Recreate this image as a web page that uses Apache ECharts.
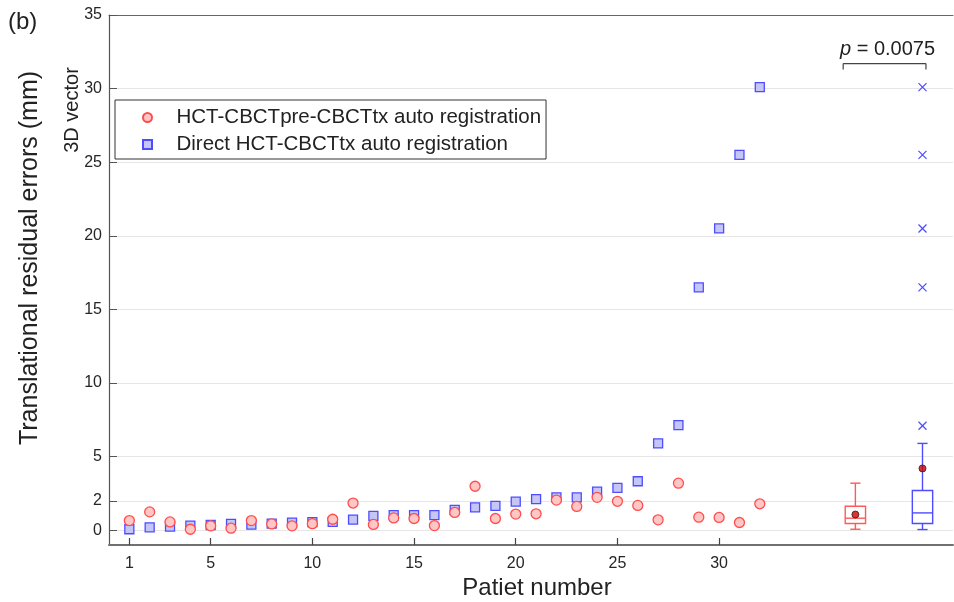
<!DOCTYPE html>
<html>
<head>
<meta charset="utf-8">
<script src="https://cdn.jsdelivr.net/npm/echarts@6/dist/echarts.min.js"></script>
<style>
  html, body { margin: 0; padding: 0; background: #fff; }
  #chart { width: 954px; height: 602px; }
</style>
</head>
<body>
<div id="chart"></div>
<script>
var FONT = '"Liberation Sans", Arial, Helvetica, sans-serif';

// patient numbers 1..32
var patients = [1, 2, 3, 4, 5, 6, 7, 8, 9, 10, 11, 12, 13, 14, 15, 16,
                17, 18, 19, 20, 21, 22, 23, 24, 25, 26, 27, 28, 29, 30, 31, 32];
// HCT-CBCTpre-CBCTtx auto registration (red circles)
var preRegErr = [0.66, 1.25, 0.57, 0.07, 0.30, 0.14, 0.66, 0.43, 0.30, 0.45, 0.75, 1.85, 0.40, 0.84, 0.80, 0.32,
                 1.21, 2.99, 0.80, 1.10, 1.12, 2.05, 1.62, 2.24, 1.97, 1.69, 0.71, 3.20, 0.89, 0.87, 0.53, 1.80];
// Direct HCT-CBCTtx auto registration (blue squares)
var directErr = [0.07, 0.20, 0.25, 0.32, 0.36, 0.43, 0.38, 0.45, 0.52, 0.55, 0.57, 0.73, 0.98, 1.03, 1.03, 1.03,
                 1.39, 1.55, 1.66, 1.94, 2.12, 2.24, 2.24, 2.62, 2.88, 3.33, 5.90, 7.14, 16.5, 20.5, 25.5, 30.1];

// box plots: [min, q1, median, q3, max] at boxPos
var boxPos = [36.7, 40];
var boxStats = [[0.07, 0.46, 0.82, 1.63, 3.2],
                [0.05, 0.46, 1.18, 2.70, 5.9]];
var boxMeans = [1.07, 4.2];
var boxColors = ['#ff5a5a', '#4d4dff'];
// outliers of the direct registration box
var outlierVals = [30.1, 25.5, 20.5, 16.5, 7.1];

var yTicks = [0, 2, 5, 10, 15, 20, 25, 30, 35];
var xTicks = [1, 5, 10, 15, 20, 25, 30];

var nameRed = 'HCT-CBCTpre-CBCTtx auto registration';
var nameBlue = 'Direct HCT-CBCTtx auto registration';

var chart = echarts.init(document.getElementById('chart'));

var boxData = boxPos.map(function (x, i) { return [x].concat(boxStats[i]).concat([i]); });

function renderBox(params, api) {
  var x = api.value(0);
  var ci = api.value(6);
  var w = api.size([1, 0])[0];
  var pMin = api.coord([x, api.value(1)]);
  var pQ1 = api.coord([x, api.value(2)]);
  var pMed = api.coord([x, api.value(3)]);
  var pQ3 = api.coord([x, api.value(4)]);
  var pMax = api.coord([x, api.value(5)]);
  var cx = pMin[0];
  var st = { stroke: boxColors[ci], lineWidth: 1.4, fill: null };
  return {
    type: 'group',
    children: [
      { type: 'line', shape: { x1: cx, y1: pMax[1], x2: cx, y2: pQ3[1] }, style: st },
      { type: 'line', shape: { x1: cx, y1: pQ1[1], x2: cx, y2: pMin[1] }, style: st },
      { type: 'line', shape: { x1: cx - w / 4, y1: pMax[1], x2: cx + w / 4, y2: pMax[1] }, style: st },
      { type: 'line', shape: { x1: cx - w / 4, y1: pMin[1], x2: cx + w / 4, y2: pMin[1] }, style: st },
      { type: 'rect', shape: { x: cx - w / 2, y: pQ3[1], width: w, height: pQ1[1] - pQ3[1] }, style: st },
      { type: 'line', shape: { x1: cx - w / 2, y1: pMed[1], x2: cx + w / 2, y2: pMed[1] }, style: st }
    ]
  };
}

function renderCross(params, api) {
  var p = api.coord([api.value(0), api.value(1)]);
  var r = 4;
  var st = { stroke: '#4d4dff', lineWidth: 1.3 };
  return {
    type: 'group',
    children: [
      { type: 'line', shape: { x1: p[0] - r, y1: p[1] - r, x2: p[0] + r, y2: p[1] + r }, style: st },
      { type: 'line', shape: { x1: p[0] - r, y1: p[1] + r, x2: p[0] + r, y2: p[1] - r }, style: st }
    ]
  };
}

function renderBracket(params, api) {
  var a = api.coord([api.value(0), api.value(2)]);
  var b = api.coord([api.value(1), api.value(2)]);
  var a2 = api.coord([api.value(0), api.value(3)]);
  var st = { stroke: '#444', lineWidth: 1.2 };
  return {
    type: 'group',
    children: [
      { type: 'line', shape: { x1: a[0], y1: a[1], x2: b[0], y2: b[1] }, style: st },
      { type: 'line', shape: { x1: a[0], y1: a[1], x2: a[0], y2: a2[1] }, style: st },
      { type: 'line', shape: { x1: b[0], y1: b[1], x2: b[0], y2: a2[1] }, style: st },
      {
        type: 'text',
        style: {
          x: (a[0] + b[0]) / 2 + 3, y: a[1] - 4,
          text: '{i|p} = 0.0075',
          rich: { i: { fontStyle: 'italic', fontSize: 20, fontFamily: FONT, fill: '#222' } },
          fill: '#222', fontSize: 20, fontFamily: FONT,
          align: 'center', verticalAlign: 'bottom'
        }
      }
    ]
  };
}

var option = {
  animation: false,
  backgroundColor: '#fff',
  textStyle: { fontFamily: FONT },
  grid: { left: 109, right: 1, top: 15, bottom: 57, containLabel: false },
  legend: {
    orient: 'vertical',
    left: 115, top: 100,
    padding: [7, 5, 4, 27],
    itemWidth: 48, itemHeight: 9, itemGap: 6,
    borderColor: '#333', borderWidth: 1, borderRadius: 0,
    selectedMode: false,
    symbolKeepAspect: true,
    textStyle: { fontSize: 20.5, color: '#222', fontFamily: FONT, lineHeight: 20 },
    data: [
      { name: nameRed, icon: 'circle' },
      { name: nameBlue, icon: 'path://M0,0H10V10H0Z' }
    ]
  },
  xAxis: [{
    type: 'value', min: 0, max: 41.5,
    axisLine: { show: true, onZero: false, lineStyle: { color: '#707070', width: 2 } },
    axisTick: { show: true, inside: true, length: 7, customValues: xTicks, lineStyle: { color: '#444', width: 1.2 } },
    axisLabel: { customValues: xTicks, fontSize: 16, color: '#262626', margin: 11, fontFamily: FONT },
    splitLine: { show: false }
  }, {
    type: 'value', min: 0, max: 41.5, position: 'top',
    axisLine: { show: true, onZero: false, lineStyle: { color: '#666', width: 1 } },
    axisTick: { show: false }, axisLabel: { show: false }, splitLine: { show: false }
  }],
  yAxis: {
    type: 'value', min: -1, max: 35,
    axisLine: { show: true, onZero: false, lineStyle: { color: '#555', width: 1.2 } },
    axisTick: { show: true, inside: true, length: 8, customValues: yTicks, lineStyle: { color: '#555' } },
    axisLabel: { customValues: yTicks, fontSize: 16, color: '#262626', margin: 7, fontFamily: FONT },
    splitLine: { show: true, lineStyle: { color: '#e6e6e6', width: 1 } }
  },
  graphic: [
    { type: 'text', left: 8, top: 10, style: { text: '(b)', fontSize: 24, fill: '#222', fontFamily: FONT } },
    { type: 'text', x: 30, y: 258, rotation: Math.PI / 2,
      style: { text: 'Translational residual errors (mm)', fontSize: 25, fill: '#222', fontFamily: FONT,
               align: 'center', verticalAlign: 'middle' } },
    { type: 'text', x: 72, y: 110, rotation: Math.PI / 2,
      style: { text: '3D vector', fontSize: 20, fill: '#222', fontFamily: FONT,
               align: 'center', verticalAlign: 'middle' } },
    { type: 'text', x: 537, y: 588,
      style: { text: 'Patiet number', fontSize: 24, fill: '#222', fontFamily: FONT,
               align: 'center', verticalAlign: 'middle' } }
  ],
  series: [
    {
      name: nameBlue, type: 'scatter', symbol: 'rect', symbolSize: 9, z: 3,
      itemStyle: { color: '#c6c6f6', borderColor: '#4d4dff', borderWidth: 1.3, opacity: 1 },
      data: patients.map(function (p, i) { return [p, directErr[i]]; })
    },
    {
      name: nameRed, type: 'scatter', symbol: 'circle', symbolSize: 10, z: 4,
      itemStyle: { color: '#ffc6c6', borderColor: '#ff4d4d', borderWidth: 1.3, opacity: 1 },
      data: patients.map(function (p, i) { return [p, preRegErr[i]]; })
    },
    {
      type: 'custom', renderItem: renderBox, z: 3,
      encode: { x: 0, y: [1, 2, 3, 4, 5] },
      data: boxData
    },
    {
      type: 'custom', renderItem: renderCross, z: 3,
      data: outlierVals.map(function (v) { return [boxPos[1], v]; })
    },
    {
      type: 'scatter', symbol: 'circle', symbolSize: 7, z: 5,
      itemStyle: { color: '#d00000', borderColor: '#222', borderWidth: 1 },
      data: boxPos.map(function (x, i) { return [x, boxMeans[i]]; })
    },
    {
      type: 'custom', renderItem: renderBracket, z: 3, clip: false,
      encode: { x: [0, 1], y: [2, 3] },
      data: [[36.1, 40.17, 31.7, 31.3]]
    }
  ]
};

chart.setOption(option);
</script>
</body>
</html>
